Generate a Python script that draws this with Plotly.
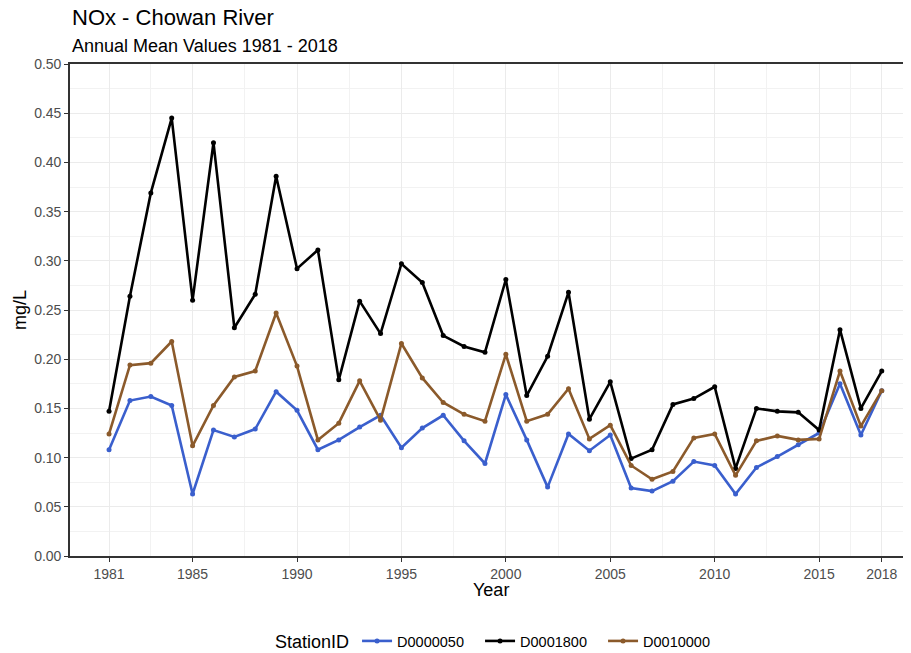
import plotly.graph_objects as go

years = list(range(1981, 2019))

d0000050 = [0.108, 0.158, 0.162, 0.153, 0.063, 0.128, 0.121, 0.129, 0.167, 0.148,
            0.108, 0.118, 0.131, 0.143, 0.110, 0.130, 0.143, 0.117, 0.094, 0.164,
            0.118, 0.070, 0.124, 0.107, 0.123, 0.069, 0.066, 0.076, 0.096, 0.092,
            0.063, 0.090, 0.101, 0.113, 0.125, 0.175, 0.123, 0.168]

d0001800 = [0.147, 0.264, 0.369, 0.445, 0.260, 0.420, 0.232, 0.266, 0.386, 0.292,
            0.311, 0.179, 0.259, 0.226, 0.297, 0.278, 0.224, 0.213, 0.207, 0.281,
            0.163, 0.203, 0.268, 0.139, 0.177, 0.099, 0.108, 0.154, 0.160, 0.172,
            0.089, 0.150, 0.147, 0.146, 0.128, 0.230, 0.150, 0.188]

d0010000 = [0.124, 0.194, 0.196, 0.218, 0.112, 0.153, 0.182, 0.188, 0.247, 0.193,
            0.118, 0.135, 0.178, 0.138, 0.216, 0.181, 0.156, 0.144, 0.137, 0.205,
            0.137, 0.144, 0.170, 0.119, 0.133, 0.092, 0.078, 0.086, 0.120, 0.124,
            0.082, 0.117, 0.122, 0.118, 0.119, 0.188, 0.132, 0.168]

series_names = ["D0000050", "D0001800", "D0010000"]
series_values = [d0000050, d0001800, d0010000]
series_colors = ["#3A5FCD", "#000000", "#8B5A2B"]

x_tick_vals = [1981, 1985, 1990, 1995, 2000, 2005, 2010, 2015, 2018]
x_minor_vals = [1983, 1987.5, 1992.5, 1997.5, 2002.5, 2007.5, 2012.5, 2016.5]
y_tick_vals = [i * 0.05 for i in range(11)]
y_minor_vals = [0.025 + i * 0.05 for i in range(10)]

FONT = "Liberation Sans, Arial, sans-serif"

# the page body adds an 8px margin, so the figure is drawn 8px smaller
OFF = 8
W, H = 911 - OFF, 653 - OFF
ML, MR, MT, MB = 70 - OFF, 0, 64 - OFF, 97
PW, PH = W - ML - MR, H - MT - MB


def py_to_paper(py):
    # py: target-page pixel y
    return 1 - (py - OFF - MT) / PH


def px_to_paper(px):
    return (px - OFF - ML) / PW


fig = go.Figure()
for name, vals, col in zip(series_names, series_values, series_colors):
    fig.add_trace(go.Scatter(
        x=years, y=vals, name=name, mode="lines+markers",
        line=dict(color=col, width=2.6),
        marker=dict(color=col, size=5),
    ))

fig.update_layout(
    width=W, height=H,
    margin=dict(l=ML, r=MR, t=MT, b=MB, autoexpand=False),
    plot_bgcolor="white", paper_bgcolor="white",
    font=dict(family=FONT, color="#000000"),
    showlegend=True,
    legend=dict(
        orientation="h", x=0.5 + 9.5 / PW, xanchor="center",
        yref="container", y=(H - (642 - OFF)) / H, yanchor="middle",
        title=dict(text="StationID", font=dict(size=18, color="#000000")),
        font=dict(size=14.5, color="#000000"),
        itemwidth=30, tracegroupgap=0, entrywidth=78,
    ),
    annotations=[
        dict(text="NOx - Chowan River", xref="paper", yref="paper",
             x=0, y=py_to_paper(17), xanchor="left", yanchor="middle",
             showarrow=False, font=dict(size=22, color="#000000")),
        dict(text="Annual Mean Values 1981 - 2018", xref="paper", yref="paper",
             x=0, y=py_to_paper(46), xanchor="left", yanchor="middle",
             showarrow=False, font=dict(size=18, color="#000000")),
        dict(text="Year", xref="paper", yref="paper",
             x=0.5, y=py_to_paper(590),
             xanchor="center", yanchor="middle",
             showarrow=False, font=dict(size=18, color="#000000")),
        dict(text="mg/L", xref="paper", yref="paper", textangle=-90,
             x=px_to_paper(20), y=0.5, xanchor="center", yanchor="middle",
             showarrow=False, font=dict(size=18, color="#000000")),
    ],
)

fig.update_xaxes(
    range=[1979.13, 2019.40], automargin=False,
    tickmode="array", tickvals=x_tick_vals, ticktext=[str(v) for v in x_tick_vals],
    showgrid=True, gridcolor="#EBEBEB", gridwidth=1.1,
    minor=dict(tickmode="array", tickvals=x_minor_vals, showgrid=True,
               gridcolor="#F2F2F2", gridwidth=0.6, ticks=""),
    showline=True, linecolor="#333333", linewidth=1.6, mirror=True,
    ticks="outside", ticklen=4, tickcolor="#333333", tickwidth=1.2,
    tickfont=dict(size=14, color="#4D4D4D"),
    zeroline=False,
)
fig.update_yaxes(
    range=[0, 0.5], automargin=False,
    tickmode="array", tickvals=y_tick_vals, ticktext=[f"{v:.2f}" for v in y_tick_vals],
    showgrid=True, gridcolor="#EBEBEB", gridwidth=1.1,
    minor=dict(tickmode="array", tickvals=y_minor_vals, showgrid=True,
               gridcolor="#F2F2F2", gridwidth=0.6, ticks=""),
    showline=True, linecolor="#333333", linewidth=1.6,
    ticks="outside", ticklen=4, tickcolor="#333333", tickwidth=1.2,
    tickfont=dict(size=14, color="#4D4D4D"),
    zeroline=False,
)

fig.write_html("out.html")
